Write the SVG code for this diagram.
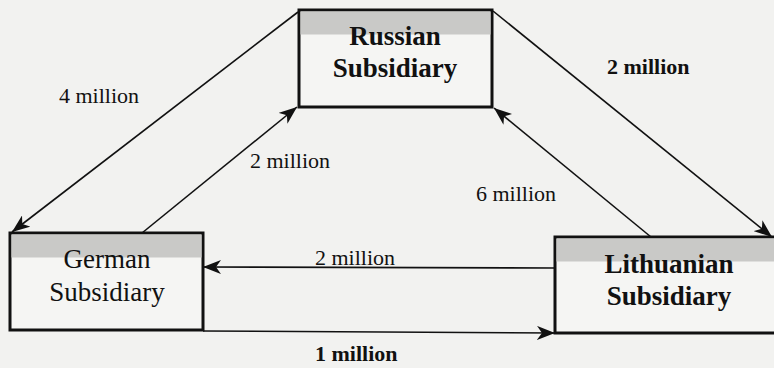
<svg xmlns="http://www.w3.org/2000/svg" width="774" height="368" viewBox="0 0 774 368">
<style>
.box{fill:#f5f5f3;stroke:#111;stroke-width:3}
.band{fill:#c9c9c7}
.conn{stroke:#111;stroke-width:1.6;fill:none;marker-end:url(#ah)}
.nt{font-family:'Liberation Serif','Times New Roman',Times,'DejaVu Serif',serif;font-size:27px;fill:#111;text-anchor:middle}
.b{font-weight:bold}
.lbl{font-family:'Liberation Serif','Times New Roman',Times,'DejaVu Serif',serif;font-size:22px;fill:#111}
</style>
<defs>
<marker id="ah" markerUnits="userSpaceOnUse" markerWidth="20" markerHeight="14" refX="18" refY="7" orient="auto">
<path d="M0,0 L18,7 L0,14 L5,7 z" fill="#111"/>
</marker>
</defs>
<rect width="774" height="368" fill="#f2f2f0"/>
<g id="connectors">
<line class="conn" x1="298" y1="12" x2="12" y2="232"/>
<line class="conn" x1="142" y1="233" x2="297" y2="107"/>
<line class="conn" x1="493" y1="11" x2="772" y2="237"/>
<line class="conn" x1="651" y1="237" x2="494" y2="108"/>
<line class="conn" x1="555" y1="268" x2="203" y2="267"/>
<line class="conn" x1="203" y1="331" x2="555" y2="333"/>
</g>
<g id="russian">
<rect class="box" x="299" y="10" width="193" height="97"/>
<rect class="band" x="300.5" y="11.5" width="190" height="23"/>
<text class="nt b" x="395" y="45">Russian</text>
<text class="nt b" x="395" y="77">Subsidiary</text>
</g>
<g id="german">
<rect class="box" x="10" y="233" width="193" height="97"/>
<rect class="band" x="11.5" y="234.5" width="190" height="23"/>
<text class="nt" x="107" y="268">German</text>
<text class="nt" x="107" y="301">Subsidiary</text>
</g>
<g id="lithuanian">
<rect class="box" x="555" y="237" width="240" height="96"/>
<rect class="band" x="556.5" y="238.5" width="237" height="23"/>
<text class="nt b" x="669" y="273">Lithuanian</text>
<text class="nt b" x="669" y="305">Subsidiary</text>
</g>
<g id="labels">
<text class="lbl" x="59" y="103">4 million</text>
<text class="lbl" x="250" y="168">2 million</text>
<text class="lbl b" x="607" y="74">2 million</text>
<text class="lbl" x="476" y="201">6 million</text>
<text class="lbl" x="315" y="265">2 million</text>
<text class="lbl b" x="315" y="361">1 million</text>
</g>
</svg>
